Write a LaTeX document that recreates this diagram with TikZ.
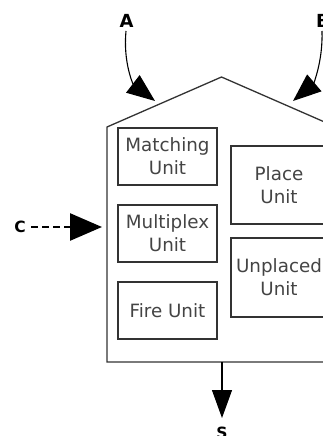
\documentclass[tikz,border=0pt]{standalone}
\usepackage{fontspec}
\setmainfont{DejaVu Sans}
\usetikzlibrary{arrows.meta}
\definecolor{edge}{HTML}{333333}
\definecolor{ink}{HTML}{444444}
\tikzset{
  unit/.style={draw=edge, line width=1.3pt, text=ink, align=center,
    font={\fontsize{18.3pt}{23pt}\selectfont}, inner sep=0pt},
  portlabel/.style={font={\bfseries\fontsize{#1}{20pt}\selectfont}, inner sep=0pt},
  flow/.style={line width=1.1pt, draw=black}
}
\begin{document}
\begin{tikzpicture}[x=1pt,y=-1pt]
  \useasboundingbox (0,0) rectangle (323,436);
  \clip (0,0) rectangle (323,436);
  % outer housing with its roof
  \draw[edge, line width=1.3pt, fill=white]
    (107,127) -- (221.5,77) -- (336,127) -- (336,362) -- (107,362) -- cycle;
  % functional units
  \node[unit, minimum width=99pt, minimum height=57pt] (match) at (167.5,156.5) {Matching\\Unit};
  \node[unit, minimum width=99pt, minimum height=57pt] (mux) at (167.5,233.5) {Multiplex\\Unit};
  \node[unit, minimum width=99pt, minimum height=57pt] (fire) at (167.5,310.5) {Fire Unit};
  \node[unit, minimum width=96pt, minimum height=78pt] (place) at (279,185) {Place\\Unit};
  \node[unit, minimum width=96pt, minimum height=79pt] (unplaced) at (279,277.5) {Unplaced\\Unit};
  % ports
  \node[portlabel=18pt] (A) at (126.5,21) {A};
  \node[portlabel=18pt] (B) at (323,21) {B};
  \node[portlabel=15.5pt] (C) at (20,227) {C};
  \node[portlabel=15.5pt] (S) at (222,433) {S};
  \coordinate (atip) at (155,101);
  \coordinate (btip) at (293,101);
  \coordinate (ctip) at (102,227);
  \coordinate (sfoot) at (222,362);
  \coordinate (stip) at (222,418);
  \draw[flow, -{Triangle[length=28pt,width=22pt]}]
    (126,31) .. controls (123,62) and (133,84) .. (atip);
  \draw[flow, -{Triangle[length=28pt,width=22pt]}]
    (322,31) .. controls (323,62) and (313,84) .. (btip);
  \draw[line width=2.6pt, dash pattern=on 7pt off 4pt, -{Triangle[length=32pt,width=27pt]}]
    (31,227) -- (ctip);
  \draw[flow, -{Triangle[length=28pt,width=20pt]}] (sfoot) -- (stip);
\end{tikzpicture}
\end{document}
